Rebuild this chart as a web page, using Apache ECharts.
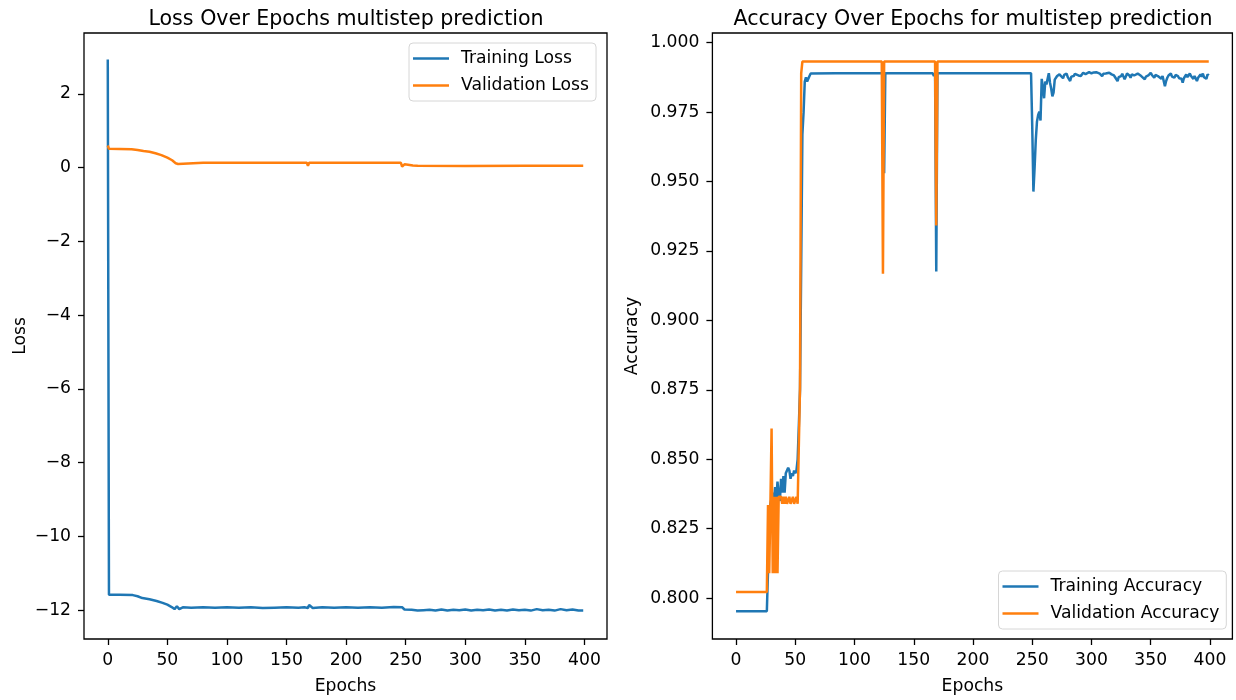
<!DOCTYPE html>
<html>
<head>
<meta charset="utf-8">
<script src="https://cdn.jsdelivr.net/npm/echarts@6/dist/echarts.min.js"></script>
<style>html,body{margin:0;padding:0;background:#fff}#chart{width:1236px;height:700px}</style>
</head>
<body>
<div id="chart"></div>
<script>
// tick labels
const epochTicks = [0, 50, 100, 150, 200, 250, 300, 350, 400];
const lossTicks = [-12, -10, -8, -6, -4, -2, 0, 2];
const accTicks = [0.800, 0.825, 0.850, 0.875, 0.900, 0.925, 0.950, 0.975, 1.000];

// [epoch, value]
const trainLoss = [
  [0, 2.93], [1, -11.58], [10, -11.58], [21, -11.59], [25, -11.62], [29, -11.67], [35, -11.70],
  [41, -11.75], [46, -11.80], [50, -11.85], [54, -11.92], [56, -11.97], [57, -11.96], [58, -11.89],
  [59, -11.94], [60, -11.97], [61, -11.93], [63, -11.92], [70, -11.93], [80, -11.92], [90, -11.93],
  [100, -11.92], [110, -11.93], [120, -11.92], [130, -11.94], [140, -11.93], [150, -11.92],
  [160, -11.93], [165, -11.92], [166, -11.96], [168, -11.94], [169, -11.86], [170, -11.91],
  [172, -11.94], [180, -11.92], [190, -11.93], [200, -11.92], [210, -11.93], [220, -11.92],
  [230, -11.93], [240, -11.91], [247, -11.92], [249, -11.98], [255, -11.99], [260, -12.01],
  [265, -12.00], [270, -11.99], [275, -12.01], [280, -11.98], [285, -12.01], [290, -11.99],
  [295, -12.00], [300, -11.98], [305, -12.01], [310, -11.99], [315, -12.00], [320, -11.98],
  [325, -12.01], [330, -11.99], [335, -12.01], [340, -11.98], [345, -12.00], [350, -11.99],
  [355, -12.01], [360, -11.97], [365, -12.00], [370, -11.99], [375, -12.01], [380, -11.97],
  [385, -12.00], [390, -11.98], [395, -12.01], [399, -12.01]
];
const valLoss = [
  [0, 0.60], [1, 0.51], [10, 0.505], [20, 0.50], [25, 0.48], [30, 0.45], [35, 0.43], [40, 0.39],
  [45, 0.34], [50, 0.27], [54, 0.20], [57, 0.12], [58, 0.09], [59, 0.10], [60, 0.13], [80, 0.13],
  [123, 0.13], [124, 0.145], [125, 0.13], [167, 0.13], [168, 0.05], [169, 0.13], [246, 0.13],
  [247, 0.03], [249, 0.09], [252, 0.08], [256, 0.06], [260, 0.05], [300, 0.045], [350, 0.05],
  [399, 0.05]
];
const trainAcc = [
  [0, 0.7953], [26, 0.7953], [27, 0.810], [28, 0.830], [29, 0.834], [30, 0.836], [31, 0.838],
  [32, 0.835], [33, 0.840], [34, 0.836], [35, 0.842], [36, 0.837], [37, 0.835], [38, 0.843],
  [39, 0.838], [40, 0.844], [41, 0.838], [42, 0.845], [43, 0.846], [44, 0.847], [45, 0.846],
  [46, 0.843], [47, 0.845], [48, 0.844], [49, 0.846], [50, 0.845], [51, 0.846], [52, 0.850],
  [53, 0.862], [54, 0.875], [55, 0.920], [56, 0.967], [57, 0.975], [58, 0.986], [59, 0.9875],
  [60, 0.986], [61, 0.9855], [62, 0.988], [63, 0.9889], [84, 0.9890], [85, 0.9884], [86, 0.9890],
  [124, 0.9890], [125, 0.953], [126, 0.9890], [166, 0.9890], [167, 0.9880], [168, 0.9890],
  [169, 0.9176], [170, 0.9890], [249, 0.9890], [250, 0.970], [251, 0.9464], [252, 0.955],
  [253, 0.965], [254, 0.9716], [255, 0.974], [256, 0.9752], [257, 0.972], [258, 0.987],
  [259, 0.984], [260, 0.980], [261, 0.986], [262, 0.985], [263, 0.987], [264, 0.989],
  [265, 0.9856], [266, 0.9835], [267, 0.9807], [268, 0.982], [269, 0.9867], [270, 0.986],
  [271, 0.988], [272, 0.9878], [273, 0.9886], [274, 0.9880], [276, 0.9872], [277, 0.9884],
  [279, 0.9889], [280, 0.9876], [282, 0.9862], [283, 0.9878], [285, 0.9880], [286, 0.9888],
  [287, 0.9889], [289, 0.9882], [290, 0.9886], [291, 0.9880], [293, 0.9892], [295, 0.9887],
  [298, 0.9894], [300, 0.9890], [302, 0.9893], [304, 0.9894], [305, 0.9888], [307, 0.9889],
  [309, 0.9880], [310, 0.9888], [312, 0.9889], [313, 0.9884], [315, 0.9892], [317, 0.9886],
  [319, 0.9882], [320, 0.9888], [322, 0.9862], [323, 0.9876], [325, 0.9880], [326, 0.9888],
  [328, 0.9868], [329, 0.9878], [330, 0.9889], [332, 0.9882], [333, 0.9874], [334, 0.9886],
  [336, 0.9882], [337, 0.9876], [339, 0.9889], [340, 0.9884], [342, 0.9880], [343, 0.9887],
  [345, 0.9868], [346, 0.9878], [348, 0.9882], [349, 0.9876], [350, 0.9892], [351, 0.9884],
  [353, 0.9874], [354, 0.9884], [356, 0.9880], [357, 0.9886], [359, 0.9870], [360, 0.9880],
  [362, 0.9843], [363, 0.9862], [364, 0.9874], [365, 0.9882], [367, 0.9889], [368, 0.9878],
  [370, 0.9874], [371, 0.9884], [373, 0.9880], [374, 0.9872], [376, 0.9870], [377, 0.9856],
  [378, 0.9872], [380, 0.9886], [381, 0.9876], [383, 0.9889], [384, 0.9880], [386, 0.9870],
  [387, 0.9880], [389, 0.9862], [390, 0.9874], [392, 0.9886], [393, 0.9878], [394, 0.9889],
  [395, 0.9876], [397, 0.9870], [398, 0.9886], [399, 0.9882]
];
const valAcc = [
  [0, 0.8022], [26, 0.8022], [27, 0.8335], [28, 0.809], [29, 0.8335], [30, 0.8611], [31, 0.809],
  [32, 0.8365], [33, 0.809], [34, 0.8365], [35, 0.809], [36, 0.8365], [38, 0.8365], [39, 0.834],
  [40, 0.8365], [41, 0.834], [42, 0.8365], [43, 0.834], [45, 0.8365], [46, 0.834], [48, 0.8365],
  [49, 0.834], [51, 0.8365], [52, 0.834], [53, 0.834], [54, 0.876], [55, 0.989], [56, 0.9932],
  [123, 0.9932], [124, 0.9168], [125, 0.9932], [168, 0.9932], [169, 0.9342], [170, 0.9932],
  [399, 0.9932]
];

const blue = '#1f77b4', orange = '#ff7f0e';
const font = 'DejaVu Sans';
const fs = 17.2;
const minus = v => (v < 0 ? '\u2212' + Math.abs(v) : String(v));

function xAxisFor(gridIndex) {
  return {
    type: 'value', gridIndex: gridIndex, min: -19.95, max: 418.95,
    name: 'Epochs', nameLocation: 'middle', nameGap: 39,
    nameTextStyle: {fontFamily: font, fontSize: fs, color: '#000'},
    axisLine: {show: false, onZero: false},
    axisTick: {show: true, length: 6, customValues: epochTicks, lineStyle: {color: '#000', width: 1.3}},
    axisLabel: {customValues: epochTicks, margin: 13, fontFamily: font, fontSize: fs, color: '#000'},
    splitLine: {show: false}
  };
}

function legendFor(names, left, top) {
  return {
    data: names, orient: 'vertical', left: left, top: top,
    padding: [7, 7, 7, 4], itemGap: 10, itemWidth: 36, itemHeight: 2.5, icon: 'rect',
    backgroundColor: '#fff', borderColor: '#d6d6d6', borderWidth: 1, borderRadius: 4,
    textStyle: {fontFamily: font, fontSize: fs, color: '#000', padding: [0, 0, 0, 7]}
  };
}

let chart = echarts.init(document.getElementById('chart'), null, {renderer: 'canvas'});
let option = {
  animation: false,
  backgroundColor: '#fff',
  title: [
    {text: 'Loss Over Epochs multistep prediction', left: 341, top: 4, textAlign: 'center',
     textStyle: {fontFamily: font, fontSize: 20.6, fontWeight: 'normal', color: '#000'}},
    {text: 'Accuracy Over Epochs for multistep prediction', left: 968, top: 4, textAlign: 'center',
     textStyle: {fontFamily: font, fontSize: 20.6, fontWeight: 'normal', color: '#000'}}
  ],
  grid: [
    {left: 84, top: 33, width: 523, height: 606, show: true, borderColor: '#000', borderWidth: 1.3},
    {left: 712.4, top: 33, width: 520, height: 606, show: true, borderColor: '#000', borderWidth: 1.3}
  ],
  legend: [
    legendFor(['Training Loss', 'Validation Loss'], 409, 43),
    legendFor(['Training Accuracy', 'Validation Accuracy'], 998.5, 571)
  ],
  xAxis: [xAxisFor(0), xAxisFor(1)],
  yAxis: [
    {type: 'value', gridIndex: 0, min: -12.78, max: 3.65,
     name: 'Loss', nameLocation: 'middle', nameGap: 55,
     nameTextStyle: {fontFamily: font, fontSize: fs, color: '#000'},
     axisLine: {show: false, onZero: false},
     axisTick: {show: true, length: 6, customValues: lossTicks, lineStyle: {color: '#000', width: 1.3}},
     axisLabel: {customValues: lossTicks, margin: 13, fontFamily: font, fontSize: fs, color: '#000',
                 formatter: minus},
     splitLine: {show: false}},
    {type: 'value', gridIndex: 1, min: 0.7853, max: 1.0035,
     name: 'Accuracy', nameLocation: 'middle', nameGap: 71,
     nameTextStyle: {fontFamily: font, fontSize: fs, color: '#000'},
     axisLine: {show: false, onZero: false},
     axisTick: {show: true, length: 6, customValues: accTicks, lineStyle: {color: '#000', width: 1.3}},
     axisLabel: {customValues: accTicks, margin: 13, fontFamily: font, fontSize: fs, color: '#000',
                 formatter: v => v.toFixed(3)},
     splitLine: {show: false}}
  ],
  series: [
    {name: 'Training Loss', type: 'line', xAxisIndex: 0, yAxisIndex: 0, data: trainLoss,
     showSymbol: false, color: blue, lineStyle: {width: 2.5, color: blue}},
    {name: 'Validation Loss', type: 'line', xAxisIndex: 0, yAxisIndex: 0, data: valLoss,
     showSymbol: false, color: orange, lineStyle: {width: 2.5, color: orange}},
    {name: 'Training Accuracy', type: 'line', xAxisIndex: 1, yAxisIndex: 1, data: trainAcc,
     showSymbol: false, color: blue, lineStyle: {width: 2.5, color: blue}},
    {name: 'Validation Accuracy', type: 'line', xAxisIndex: 1, yAxisIndex: 1, data: valAcc,
     showSymbol: false, color: orange, lineStyle: {width: 2.5, color: orange}}
  ]
};
chart.setOption(option);
</script>
</body>
</html>
